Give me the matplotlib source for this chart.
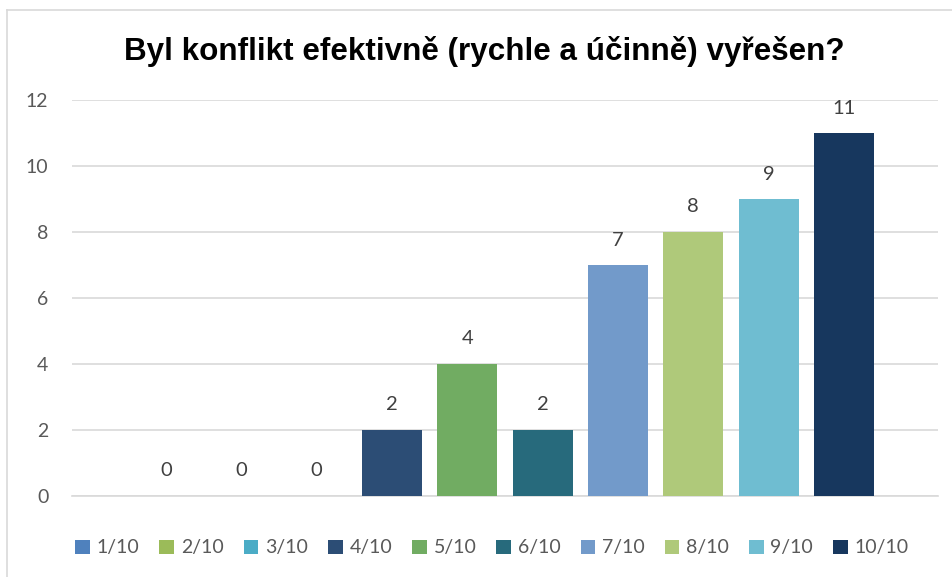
import matplotlib
matplotlib.use("Agg")
import matplotlib.pyplot as plt
from matplotlib.patches import Patch
from matplotlib.lines import Line2D

categories = ["1/10", "2/10", "3/10", "4/10", "5/10", "6/10", "7/10", "8/10", "9/10", "10/10"]
values = [0, 0, 0, 2, 4, 2, 7, 8, 9, 11]
colors = ["#4F81BD", "#9BBB59", "#4BACC6", "#2C4D75", "#71AC62",
          "#276A7C", "#729ACA", "#AFC97A", "#6FBDD1", "#17375E"]
yticks = [0, 2, 4, 6, 8, 10, 12]
title = "Byl konflikt efektivně (rychle a účinně) vyřešen?"

W, H = 953, 577
fig = plt.figure(figsize=(W / 100, H / 100), dpi=100)
ax = fig.add_axes([72 / W, 81 / H, 866 / W, 396 / H])

x = list(range(len(categories)))
bars = ax.bar(x, values, width=0.797, color=colors, zorder=3)
for xi, v in zip(x, values):
    ax.annotate(str(v), (xi, v), xytext=(0, 18), textcoords="offset points",
                ha="center", va="center", fontsize=14.5, family="Lato", color="#404040")

ax.set_xlim(-1.248, 10.248)
ax.set_ylim(0, 12)
ax.set_yticks(yticks)
ax.set_xticks([])
ax.yaxis.grid(True, color="#D9D9D9", linewidth=1.2, zorder=0)
for s in ["top", "right", "left"]:
    ax.spines[s].set_visible(False)
ax.spines["bottom"].set_color("#D9D9D9")
ax.spines["bottom"].set_linewidth(1.2)
ax.tick_params(axis="y", length=0, pad=17, labelsize=14, labelcolor="#595959")
for lab in ax.get_yticklabels():
    lab.set_family("Lato")

fig.text(484 / W, 1 - 60 / H, title, ha="center", va="baseline",
         fontsize=22.6, fontweight="bold", family="Liberation Sans", color="#000000")

handles = [Patch(facecolor=c, edgecolor="none") for c in colors]
fig.legend(handles, categories, loc="center", bbox_to_anchor=(492 / W, 1 - 548 / H),
           ncol=10, frameon=False, handlelength=0.75, handleheight=0.75,
           handletextpad=0.35, columnspacing=1.03,
           prop={"family": "Lato", "size": 14}, labelcolor="#595959")

# chart border (left and top)
fig.add_artist(Line2D([7.5 / W, 7.5 / W], [0, 1 - 10 / H], color="#D9D9D9", lw=1.2))
fig.add_artist(Line2D([7.5 / W, 1], [1 - 10 / H, 1 - 10 / H], color="#D9D9D9", lw=1.2))

fig.savefig("out.png", dpi=100)
